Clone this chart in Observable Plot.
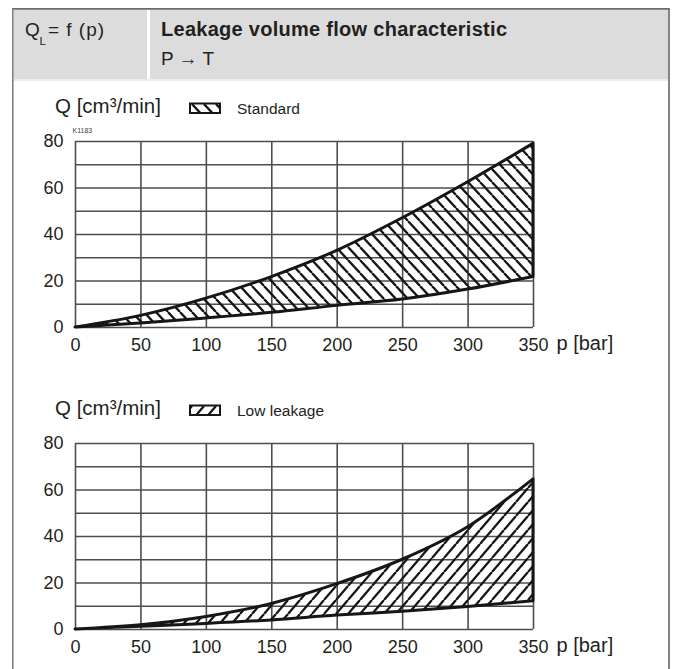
<!DOCTYPE html>
<html>
<head>
<meta charset="utf-8">
<script src="https://cdn.jsdelivr.net/npm/d3@7"></script>
<script src="https://cdn.jsdelivr.net/npm/@observablehq/plot@0.6"></script>
<style>
  html, body { margin: 0; padding: 0; background: #fff; }
  body { width: 673px; height: 669px; position: relative; overflow: hidden; }
  #bg { position: absolute; left: 0; top: 0; }
  .chart { position: absolute; left: 0; }
  #c1 { top: 130px; }
  #c2 { top: 432px; }
</style>
</head>
<body>
<svg id="bg" width="673" height="669" font-family="'Liberation Sans', Arial, sans-serif" fill="#231f20">
  <defs>
    <pattern id="hatchStd" patternUnits="userSpaceOnUse" width="12" height="13">
      <path d="M-12,0 L0,13 M0,0 L12,13 M12,0 L24,13" stroke="#161616" stroke-width="2.3" fill="none"/>
    </pattern>
    <pattern id="hatchLow" patternUnits="userSpaceOnUse" width="12" height="14">
      <path d="M-12,14 L0,0 M0,14 L12,0 M12,14 L24,0" stroke="#161616" stroke-width="2.3" fill="none"/>
    </pattern>
  </defs>
  <rect x="13.5" y="9.5" width="655" height="69.5" fill="#dcdcdd"/>
  <rect x="147" y="9.5" width="3" height="69.5" fill="#ffffff"/>
  <rect x="13.5" y="79" width="655" height="2" fill="#ececec"/>
  <line x1="12" y1="8.8" x2="670" y2="8.8" stroke="#6a6a6a" stroke-width="1.8"/>
  <line x1="12.8" y1="8" x2="12.8" y2="669" stroke="#808080" stroke-width="1.6"/>
  <line x1="669" y1="8" x2="669" y2="669" stroke="#777777" stroke-width="1.8"/>
  <g id="headerText"></g>
  <g id="labels"></g>
</svg>
<div id="c1" class="chart"></div>
<div id="c2" class="chart"></div>
<script>
// ---------- data ----------
const pressure = [0, 50, 100, 150, 200, 250, 300, 350];
const standardUpper = [0, 5, 12.4, 21.7, 33, 47, 62.5, 79];
const standardLower = [0, 1.7, 3.9, 6.3, 9.3, 12, 16.3, 21.7];
const lowUpper = [0, 1.8, 5.4, 11, 19.5, 30, 44, 64.6];
const lowLower = [0, 1.2, 2.4, 3.9, 6, 7.6, 9.7, 12.1];
const xTicks = [0, 50, 100, 150, 200, 250, 300, 350];
const yTicks = [0, 20, 40, 60, 80];
const yGrid = [0, 10, 20, 30, 40, 50, 60, 70, 80];
const seriesNames = ["Standard", "Low leakage"];
const yLabel = "Q [cm³/min]";
const xLabel = "p [bar]";
const title = "Leakage volume flow characteristic";
const subtitle = "P → T";
const drawingId = "K1183";

// ---------- header & labels (text) ----------
const NS = "http://www.w3.org/2000/svg";
function svgText(parent, x, y, str, attrs = {}) {
  const t = document.createElementNS(NS, "text");
  t.setAttribute("x", x); t.setAttribute("y", y);
  for (const k in attrs) t.setAttribute(k, attrs[k]);
  t.textContent = str;
  parent.appendChild(t);
  return t;
}
function svgEl(parent, tag, attrs) {
  const e = document.createElementNS(NS, tag);
  for (const k in attrs) e.setAttribute(k, attrs[k]);
  parent.appendChild(e);
  return e;
}
const hdr = document.getElementById("headerText");
svgText(hdr, 25, 36, "Q", {"font-size": 19});
svgText(hdr, 39.5, 45, "L", {"font-size": 11.5});
svgText(hdr, 48, 36, "= f (p)", {"font-size": 19, textLength: 56, lengthAdjust: "spacing"});
svgText(hdr, 161, 36, title, {"font-size": 20, "font-weight": "bold", textLength: 346, lengthAdjust: "spacing"});
svgText(hdr, 161, 65, subtitle, {"font-size": 19});

const lab = document.getElementById("labels");
function legendBlock(offsetY, name, patternId) {
  svgText(lab, 55, 113 + offsetY, yLabel, {"font-size": 20.5});
  svgEl(lab, "rect", {x: 190, y: 103.5 + offsetY, width: 30, height: 9.5, fill: `url(#${patternId})`, stroke: "#161616", "stroke-width": 2});
  svgText(lab, 237, 114 + offsetY, name, {"font-size": 15.5});
}
legendBlock(0, seriesNames[0], "hatchStd");
legendBlock(302, seriesNames[1], "hatchLow");
svgText(lab, 72.5, 133, drawingId, {"font-size": 7, fill: "#444"});

// ---------- charts ----------
function chart(upper, lower, patternId) {
  const rows = pressure.map((p, i) => ({p, lo: lower[i], hi: upper[i]}));
  return Plot.plot({
    width: 640, height: 227,
    marginLeft: 75, marginRight: 107, marginTop: 11, marginBottom: 30,
    style: {background: "transparent", fontFamily: "'Liberation Sans', Arial, sans-serif", color: "#231f20", overflow: "visible"},
    x: {domain: [0, 350]},
    y: {domain: [0, 80]},
    marks: [
      Plot.ruleY(yGrid, {stroke: "#4d4d4d", strokeWidth: 1.6}),
      Plot.ruleX(xTicks, {stroke: "#4d4d4d", strokeWidth: 1.6}),
      Plot.areaY(rows, {x: "p", y1: "lo", y2: "hi", fill: `url(#${patternId})`, stroke: "#161616", strokeWidth: 3, strokeLinejoin: "round", curve: "monotone-x"}),
      Plot.axisX({ticks: xTicks, tickSize: 0, tickPadding: 11, label: null, fontSize: 18}),
      Plot.axisY({ticks: yTicks, tickSize: 0, tickPadding: 12, label: null, fontSize: 18}),
      Plot.text([xLabel], {x: 350, y: 0, text: d => d, dx: 23, dy: 22, textAnchor: "start", lineAnchor: "bottom", fontSize: 20, fill: "#231f20"})
    ]
  });
}
document.getElementById("c1").appendChild(chart(standardUpper, standardLower, "hatchStd"));
document.getElementById("c2").appendChild(chart(lowUpper, lowLower, "hatchLow"));
</script>
</body>
</html>
